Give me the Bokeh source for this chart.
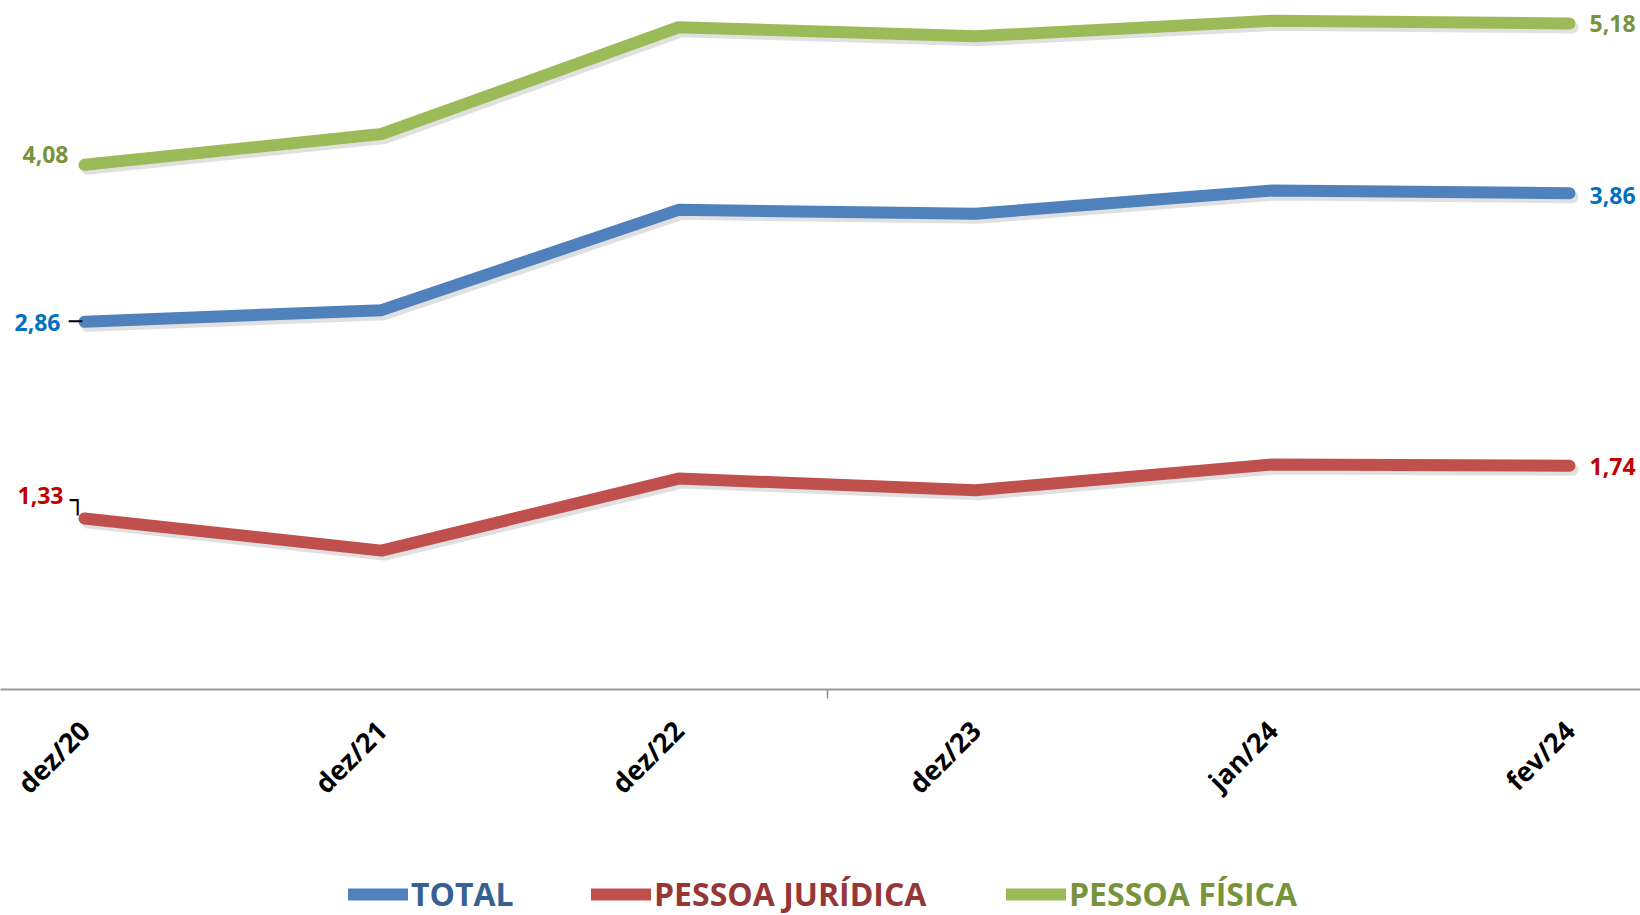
import math
from bokeh.plotting import figure
from bokeh.layouts import column
from bokeh.models import Range1d, FixedTicker, Legend, LegendItem
from bokeh.core.properties import value
from bokeh.embed import file_html
from bokeh.resources import INLINE

categories = ["dez/20", "dez/21", "dez/22", "dez/23", "jan/24", "fev/24"]
total = [2.86, 2.95, 3.73, 3.70, 3.88, 3.86]
pessoa_juridica = [1.33, 1.08, 1.64, 1.55, 1.75, 1.74]
pessoa_fisica = [4.08, 4.32, 5.15, 5.08, 5.20, 5.18]

series_names = ["TOTAL", "PESSOA JURÍDICA", "PESSOA FÍSICA"]
line_colors = ["#4F81BD", "#C0504D", "#9BBB59"]
label_colors = ["#0070C0", "#C00000", "#77933C"]
legend_text_colors = ["#376092", "#953735", "#77933C"]

xs = list(range(len(categories)))

W = 1640
H_MAIN = 848
H_LEG = 67
FRAME_H = 689
X0, X1 = -0.2828, 5.239
Y0, Y1 = 0.0, 5.358
px_x = W / (X1 - X0)
px_y = FRAME_H / (Y1 - Y0)

p = figure(width=W, height=H_MAIN, output_backend="svg", toolbar_location=None,
           x_range=Range1d(X0, X1), y_range=Range1d(Y0, Y1),
           min_border_left=0, min_border_right=0, min_border_top=0,
           min_border_bottom=H_MAIN - FRAME_H)
p.outline_line_color = None
p.xgrid.visible = False
p.ygrid.visible = False
p.yaxis.visible = False

# shadow ranges (shift 3px right, 4px down)
p.extra_x_ranges = {"sh_x": Range1d(X0 - 3 / px_x, X1 - 3 / px_x)}
p.extra_y_ranges = {"sh_y": Range1d(Y0 + 4 / px_y, Y1 + 4 / px_y)}

data = [total, pessoa_juridica, pessoa_fisica]
for vals in data:
    p.line(xs, vals, line_width=12, line_color="black", line_alpha=0.12,
           line_cap="round", line_join="round",
           x_range_name="sh_x", y_range_name="sh_y")
for vals, col in zip(data, line_colors):
    p.line(xs, vals, line_width=12, line_color=col,
           line_cap="round", line_join="round")

def fmt(v):
    return f"{v:.2f}".replace(".", ",")

start_off = [(-24, 1), (-21, -23), (-16, -10)]
end_off = [(20, 2), (20, 1), (20, 0)]
for vals, col, so, eo in zip(data, label_colors, start_off, end_off):
    p.text(x=[xs[0]], y=[vals[0]], text=[fmt(vals[0])], text_color=col,
           text_font=value("Open Sans"), text_font_style="bold",
           text_font_size="23px", text_align="right", text_baseline="middle",
           x_offset=so[0], y_offset=so[1])
    p.text(x=[xs[-1]], y=[vals[-1]], text=[fmt(vals[-1])], text_color=col,
           text_font=value("Open Sans"), text_font_style="bold",
           text_font_size="23px", text_align="left", text_baseline="middle",
           x_offset=eo[0], y_offset=eo[1])

# leader lines
p.text(x=[xs[0]], y=[total[0]], text=["\u2500"], text_color="black",
       text_font=value("DejaVu Sans Mono"), text_font_size="22px",
       text_align="center", text_baseline="middle", x_offset=-9, y_offset=0)
p.text(x=[xs[0]], y=[pessoa_juridica[0]], text=["\u2510"], text_color="black",
       text_font=value("DejaVu Sans Mono"), text_font_size="26px",
       text_align="center", text_baseline="middle", x_offset=-7, y_offset=-18)

ax = p.xaxis[0]
ax.ticker = FixedTicker(ticks=xs, minor_ticks=[2.5])
ax.major_label_overrides = {i: c for i, c in zip(xs, categories)}
ax.major_label_orientation = math.pi / 4
ax.major_label_text_font = "Open Sans"
ax.major_label_text_font_style = "bold"
ax.major_label_text_font_size = "27px"
ax.major_label_text_color = "black"
ax.major_label_standoff = 27
ax.major_tick_line_color = None
ax.major_tick_out = 0
ax.major_tick_in = 0
ax.minor_tick_line_color = "#8c8c8c"
ax.minor_tick_line_width = 1.5
ax.minor_tick_out = 9
ax.minor_tick_in = 0
ax.axis_line_color = "#9a9a9a"
ax.axis_line_width = 2

# legend strip (series drawn outside its visible range; only swatches show)
pl = figure(width=W, height=H_LEG, output_backend="svg", toolbar_location=None,
            x_range=Range1d(0, 1), y_range=Range1d(100, 101),
            min_border_left=0, min_border_right=0, min_border_top=0,
            min_border_bottom=0)
pl.outline_line_color = None
pl.xaxis.visible = False
pl.yaxis.visible = False
pl.xgrid.visible = False
pl.ygrid.visible = False

leg_x = [348, 591, 1006]
for name, vals, col, tc, lx in zip(series_names, data, line_colors,
                                    legend_text_colors, leg_x):
    r = pl.line(xs, vals, line_width=12, line_color=col, line_cap="round")
    leg = Legend(items=[LegendItem(label=name, renderers=[r])],
                 location=(lx, 0), orientation="horizontal",
                 glyph_width=60, glyph_height=30, label_height=30,
                 label_standoff=3, padding=0, margin=0, spacing=0,
                 border_line_color=None, background_fill_alpha=0,
                 label_text_font="Open Sans", label_text_font_style="bold",
                 label_text_font_size="32px",
                 label_text_color=tc)
    pl.add_layout(leg, "center")

layout = column(p, pl, spacing=0)
open("out.html", "w").write(file_html(layout, INLINE))
